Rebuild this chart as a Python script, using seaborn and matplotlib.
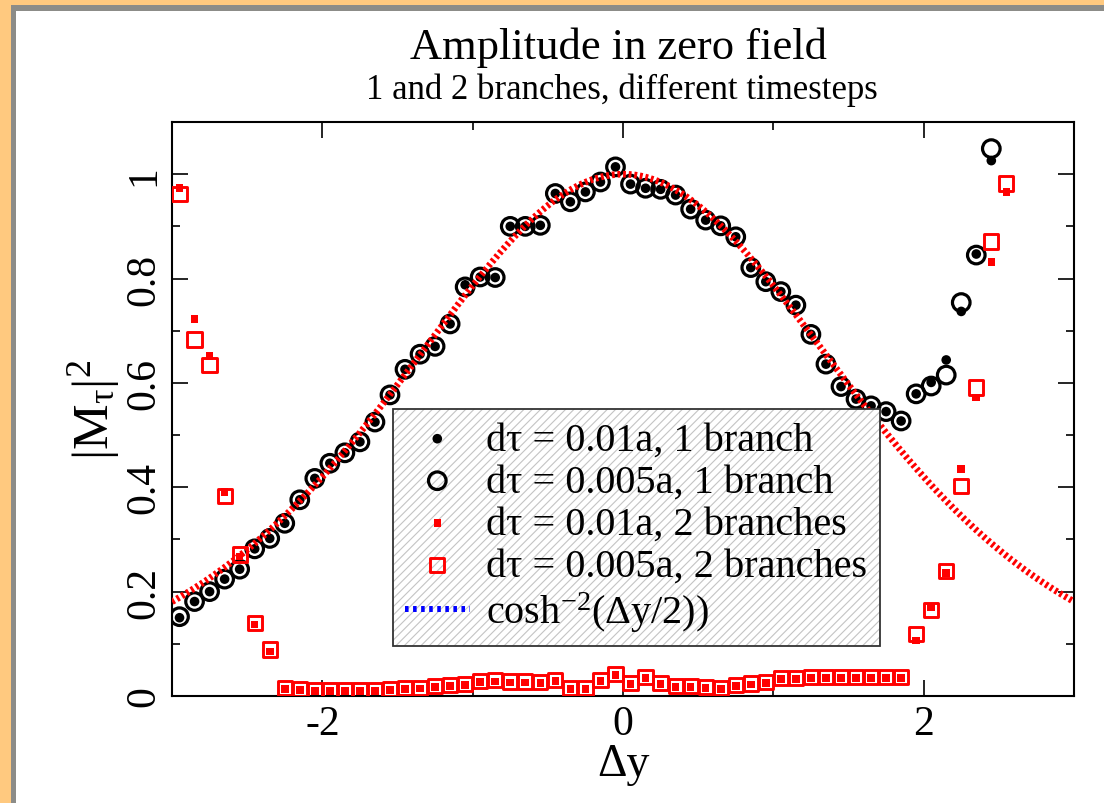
import numpy as np
import matplotlib
matplotlib.use("Agg")
import matplotlib.pyplot as plt
import matplotlib.colors as mcolors
from matplotlib.lines import Line2D
from matplotlib.patches import Rectangle
import seaborn as sns

# ---- data -------------------------------------------------------------
# rapidity separation grids (step 0.1, cell centres)
dy_one_branch = np.round(np.arange(-2.95, 2.46, 0.1), 2)
dy_two_branch = np.round(np.arange(-2.95, 2.56, 0.1), 2)

# |M_tau|^2, one branch, dtau = 0.005a
amp_dt005_one = [
    0.152, 0.181, 0.200, 0.224, 0.243, 0.282, 0.302, 0.331, 0.376, 0.417,
    0.446, 0.466, 0.487, 0.525, 0.577, 0.626, 0.655, 0.670, 0.713, 0.784,
    0.803, 0.802, 0.900, 0.900, 0.902, 0.963, 0.947, 0.966, 0.985, 1.014,
    0.981, 0.973, 0.971, 0.960, 0.933, 0.912, 0.901, 0.880, 0.821, 0.794,
    0.775, 0.749, 0.693, 0.636, 0.593, 0.569, 0.556, 0.545, 0.527, 0.579,
    0.594, 0.615, 0.754, 0.845, 1.049,
]
# |M_tau|^2, one branch, dtau = 0.01a
amp_dt01_one = [
    0.150, 0.181, 0.200, 0.224, 0.243, 0.282, 0.302, 0.331, 0.376, 0.417,
    0.446, 0.466, 0.487, 0.525, 0.577, 0.626, 0.655, 0.670, 0.713, 0.788,
    0.803, 0.802, 0.900, 0.900, 0.902, 0.963, 0.947, 0.966, 0.985, 1.014,
    0.981, 0.973, 0.971, 0.960, 0.933, 0.912, 0.901, 0.880, 0.821, 0.794,
    0.775, 0.749, 0.693, 0.636, 0.593, 0.569, 0.556, 0.545, 0.527, 0.579,
    0.601, 0.644, 0.737, 0.847, 1.026,
]
# |M_tau|^2, two branches, dtau = 0.005a
amp_dt005_two = [
    0.962, 0.683, 0.634, 0.384, 0.271, 0.140, 0.089, 0.015, 0.014, 0.012,
    0.012, 0.012, 0.012, 0.012, 0.014, 0.015, 0.016, 0.019, 0.021, 0.023,
    0.029, 0.030, 0.028, 0.028, 0.027, 0.031, 0.015, 0.015, 0.031, 0.042,
    0.025, 0.036, 0.025, 0.019, 0.019, 0.017, 0.015, 0.021, 0.024, 0.027,
    0.035, 0.035, 0.036, 0.036, 0.037, 0.037, 0.037, 0.037, 0.036, 0.119,
    0.165, 0.239, 0.402, 0.591, 0.871, 0.982,
]
# |M_tau|^2, two branches, dtau = 0.01a
amp_dt01_two = [
    0.974, 0.722, 0.652, 0.391, 0.267, 0.137, 0.085, 0.013, 0.012, 0.010,
    0.010, 0.010, 0.010, 0.010, 0.012, 0.013, 0.014, 0.017, 0.019, 0.021,
    0.027, 0.028, 0.026, 0.026, 0.025, 0.029, 0.013, 0.013, 0.029, 0.040,
    0.023, 0.034, 0.023, 0.017, 0.017, 0.015, 0.013, 0.019, 0.022, 0.025,
    0.033, 0.033, 0.034, 0.034, 0.035, 0.035, 0.035, 0.035, 0.034, 0.106,
    0.170, 0.236, 0.435, 0.572, 0.832, 0.966,
]

series_labels = [
    "dτ = 0.01a, 1 branch",
    "dτ = 0.005a, 1 branch",
    "dτ = 0.01a, 2 branches",
    "dτ = 0.005a, 2 branches",
    "cosh$^{-2}$(Δy/2))",
]
x_ticks = [-2, 0, 2]
x_tick_labels = ["-2", "0", "2"]
y_ticks = [0, 0.2, 0.4, 0.6, 0.8, 1.0]
y_tick_labels = ["0", "0.2", "0.4", "0.6", "0.8", "1"]

# analytic reference curve
dy_curve = np.linspace(-3, 3, 601)
amp_curve = 1.0 / np.cosh(dy_curve / 2.0) ** 2

# ---- style ------------------------------------------------------------
sns.set_style("ticks")
plt.rcParams.update({
    "font.family": ["Liberation Serif", "DejaVu Serif"],
    "mathtext.fontset": "custom",
    "mathtext.rm": "Liberation Serif",
    "mathtext.it": "Liberation Serif",
    "mathtext.bf": "Liberation Serif",
    "hatch.linewidth": 0.8,
    "text.color": "black",
    "axes.labelcolor": "black",
    "xtick.color": "black",
    "ytick.color": "black",
    "xtick.labelcolor": "black",
    "ytick.labelcolor": "black",
})

W, H = 1104, 804
fig = plt.figure(figsize=(W / 100, H / 100), dpi=100)
fig.patch.set_facecolor("white")

# page frame: orange band with a grey inner rule on the left and top
orange, grey = "#FFC97F", "#8C8C88"
for (x0, y0, w, h, c) in [
    (0, 0, 11, H, orange),
    (0, H - 6, W, 6, orange),
    (11, 0, 5, H - 6, grey),
    (11, H - 12, W - 11, 6, grey),
]:
    fig.patches.append(Rectangle((x0 / W, y0 / H), w / W, h / H,
                                 transform=fig.transFigure, color=c,
                                 lw=0, zorder=0))

ax = fig.add_axes([172 / W, 1 - 697 / H, (1074 - 172) / W, (697 - 123) / H])
ax.set_facecolor("white")

# ---- marks ------------------------------------------------------------
sns.scatterplot(x=dy_one_branch, y=amp_dt01_one, ax=ax, marker="o", s=48,
                color="black", edgecolor="none", linewidth=0, zorder=3)
sns.scatterplot(x=dy_one_branch, y=amp_dt005_one, ax=ax, marker="o", s=160,
                facecolor="none", edgecolor="black", linewidth=2.3, zorder=3)
sns.scatterplot(x=dy_two_branch, y=amp_dt01_two, ax=ax, marker="s", s=30,
                color="red", edgecolor="none", linewidth=0, zorder=3)
sns.scatterplot(x=dy_two_branch, y=amp_dt005_two, ax=ax, marker="s", s=105,
                facecolor="none", edgecolor="red", linewidth=2.1, zorder=3)
sns.lineplot(x=dy_curve, y=amp_curve, ax=ax, color="red", linewidth=4.8,
             zorder=4, sort=False)
curve_line = ax.lines[-1]
curve_line.set_linestyle((0, (0.42, 0.42)))
curve_line.set_dash_capstyle("butt")

# ---- axes -------------------------------------------------------------
ax.set_xlim(-3, 3)
ax.set_ylim(0, 1.1)
ax.set_xticks(x_ticks)
ax.set_xticklabels(x_tick_labels)
ax.set_xticks([-1, 1], minor=True)
ax.set_yticks(y_ticks)
ax.set_yticklabels(y_tick_labels)
ax.set_yticks([0.1, 0.3, 0.5, 0.7, 0.9], minor=True)
ax.tick_params(which="both", direction="in", top=True, right=True,
               width=1.2, colors="black", labelcolor="black",
               labelsize=30, pad=6)
ax.tick_params(which="major", length=11.5)
ax.tick_params(which="minor", length=5.8)
ax.tick_params(axis="y", labelrotation=90)
for lab in ax.get_yticklabels():
    lab.set_va("center")
for sp in ax.spines.values():
    sp.set_linewidth(1.5)
    sp.set_color("black")

ax.set_xlabel("Δy", fontsize=33, labelpad=0, color="black")
ax.set_ylabel("|M$_{τ}$|$^{2}$", fontsize=37, labelpad=2, color="black")

fig.text(618 / W, 1 - 48 / H, "Amplitude in zero field", fontsize=32,
         ha="center", va="center", color="black")
fig.text(622 / W, 1 - 90 / H, "1 and 2 branches, different timesteps",
         fontsize=25, ha="center", va="center", color="black")

# ---- legend -----------------------------------------------------------
pts = ax.collections
curve_handle = Line2D([], [], color="blue", linewidth=4.3,
                      linestyle=(0, (0.6, 0.75)), dash_capstyle="butt")
leg = ax.legend(handles=[pts[0], pts[1], pts[2], pts[3], curve_handle],
                labels=series_labels, loc="upper left",
                bbox_to_anchor=(393 / W, 1 - 410 / H),
                bbox_transform=fig.transFigure, borderaxespad=0,
                fontsize=29, frameon=True, fancybox=False,
                borderpad=0.3, labelspacing=0.12, handlelength=1.6,
                handletextpad=0.42)
leg.set_zorder(10)
for t in leg.get_texts():
    t.set_color("black")
frame = leg.get_frame()
frame.set_facecolor("white")
frame.set_edgecolor("#333333")
frame.set_linewidth(1.3)
frame.set_alpha(1)
frame.set_hatch("////")
hatch_rgba = mcolors.to_rgba("#c4c4c4")
if hasattr(frame, "set_hatchcolor"):
    frame.set_hatchcolor(hatch_rgba)
else:
    frame._hatch_color = hatch_rgba

fig.savefig("out.png", dpi=100)
